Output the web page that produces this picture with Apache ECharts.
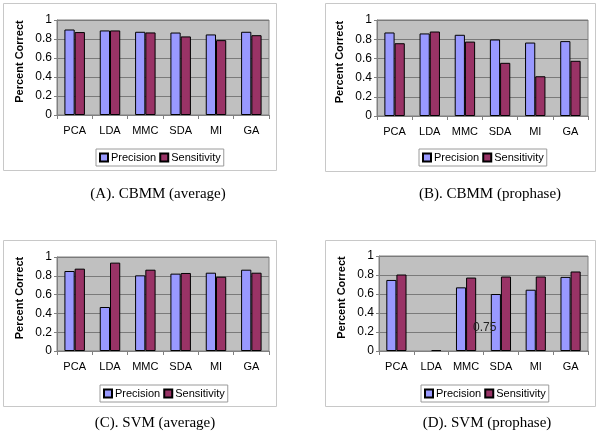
<!DOCTYPE html>
<html>
<head>
<meta charset="utf-8">
<script src="https://cdn.jsdelivr.net/npm/echarts@6/dist/echarts.min.js"></script>
<style>
  html, body { margin: 0; padding: 0; background: #fff; }
  #grid { width: 600px; height: 439px; }
</style>
</head>
<body>
<div id="grid"></div>
<script>
const methods = ['PCA', 'LDA', 'MMC', 'SDA', 'MI', 'GA'];
const yTicks = [0, 0.2, 0.4, 0.6, 0.8, 1];

// (A) CBMM average
const precisionA = [0.9, 0.89, 0.876, 0.868, 0.848, 0.876];
const sensitivityA = [0.873, 0.89, 0.869, 0.827, 0.788, 0.84];
// (B) CBMM prophase
const precisionB = [0.87, 0.86, 0.846, 0.797, 0.765, 0.78];
const sensitivityB = [0.758, 0.88, 0.775, 0.554, 0.414, 0.575];
// (C) SVM average
const precisionC = [0.851, 0.468, 0.805, 0.823, 0.833, 0.865];
const sensitivityC = [0.876, 0.94, 0.865, 0.83, 0.79, 0.833];
// (D) SVM prophase - no precision bar drawn for LDA
const precisionD = [0.748, null, 0.67, 0.6, 0.645, 0.78];
const sensitivityD = [0.805, 0.01, 0.773, 0.784, 0.784, 0.837];

const captions = [
  '(A). CBMM (average)',
  '(B). CBMM (prophase)',
  '(C). SVM (average)',
  '(D). SVM (prophase)',
];

const myChart = echarts.init(document.getElementById('grid'));

const font = 'Liberation Sans, Arial, sans-serif';

// panel layout: plot box, legend box, caption centre, outer frame
const panels = [
  { grid: [57, 20, 212, 95], legend: [96, 149], cap: [153, 182], frame: [3, 3, 273, 167] },
  { grid: [377, 20, 211, 96], legend: [419, 149], cap: [485, 182], frame: [325, 3, 270, 168] },
  { grid: [57, 257, 212, 94], legend: [100, 385], cap: [150, 411], frame: [3, 240, 273, 166] },
  { grid: [379, 256, 209, 95], legend: [421, 385], cap: [482, 411], frame: [325, 240, 270, 166] },
];

const seriesData = [
  [precisionA, sensitivityA],
  [precisionB, sensitivityB],
  [precisionC, sensitivityC],
  [precisionD, sensitivityD],
];

const grids = [];
const xAxes = [];
const yAxes = [];
const legends = [];
const titles = [];
const series = [];
const graphics = [];

panels.forEach((p, i) => {
  graphics.push({
    type: 'rect',
    shape: { x: p.frame[0] + 0.5, y: p.frame[1] + 0.5, width: p.frame[2], height: p.frame[3] },
    style: { fill: 'none', stroke: '#c8c8c8', lineWidth: 1 },
    z: -10,
  });

  grids.push({
    left: p.grid[0],
    top: p.grid[1],
    width: p.grid[2],
    height: p.grid[3],
    show: true,
    backgroundColor: '#c0c0c0',
    borderColor: '#808080',
    borderWidth: 1,
  });

  xAxes.push({
    type: 'category',
    gridIndex: i,
    data: methods,
    axisLine: { show: true, lineStyle: { color: '#808080' } },
    axisTick: { show: true, length: 4, lineStyle: { color: '#808080' } },
    axisLabel: { color: '#000', fontFamily: font, fontSize: 11, margin: 10 },
  });

  yAxes.push({
    type: 'value',
    gridIndex: i,
    min: yTicks[0],
    max: yTicks[yTicks.length - 1],
    interval: 0.2,
    name: 'Percent Correct',
    nameLocation: 'middle',
    nameGap: 32,
    nameTextStyle: {
      color: '#000',
      fontFamily: font,
      fontSize: 11,
      fontWeight: 'bold',
      padding: [0, 0, 0, 12],
    },
    axisLine: { show: true, lineStyle: { color: '#808080' } },
    axisTick: { show: true, length: 3, lineStyle: { color: '#808080' } },
    axisLabel: { color: '#000', fontFamily: font, fontSize: 12, margin: 5 },
    splitLine: { show: true, lineStyle: { color: '#7a7a7a', width: 1 } },
  });

  legends.push({
    left: p.legend[0],
    top: p.legend[1],
    orient: 'horizontal',
    data: ['Precision', 'Sensitivity'],
    icon: 'rect',
    itemWidth: 8,
    itemHeight: 8,
    itemGap: 3,
    padding: [3, 3],
    borderColor: '#9a9a9a',
    borderWidth: 1,
    backgroundColor: '#fff',
    borderRadius: 0,
    selectedMode: false,
    textStyle: { color: '#000', fontFamily: font, fontSize: 11, padding: [0, 0, 0, -2] },
  });

  titles.push({
    text: captions[i],
    left: p.cap[0],
    top: p.cap[1],
    textAlign: 'center',
    textStyle: {
      fontFamily: 'Liberation Serif, Times New Roman, serif',
      fontSize: 15,
      fontWeight: 'normal',
      color: '#000',
    },
  });

  series.push(
    {
      name: 'Precision',
      type: 'bar',
      xAxisIndex: i,
      yAxisIndex: i,
      data: seriesData[i][0],
      barGap: 0,
      barCategoryGap: '42%',
      itemStyle: { color: '#9999ff', borderColor: '#000', borderWidth: 1 },
      silent: true,
    },
    {
      name: 'Sensitivity',
      type: 'bar',
      xAxisIndex: i,
      yAxisIndex: i,
      data: seriesData[i][1],
      barGap: 0,
      barCategoryGap: '42%',
      itemStyle: { color: '#993366', borderColor: '#000', borderWidth: 1 },
      silent: true,
    }
  );
});

// stray data label left in panel D
graphics.push({
  type: 'text',
  left: 473,
  top: 322,
  style: { text: '0.75', fill: '#222', font: '12px Liberation Sans, Arial, sans-serif' },
  z: 100,
});

const option = {
  animation: false,
  backgroundColor: '#fff',
  title: titles,
  grid: grids,
  xAxis: xAxes,
  yAxis: yAxes,
  legend: legends,
  series: series,
  graphic: graphics,
};

myChart.setOption(option);
</script>
</body>
</html>
